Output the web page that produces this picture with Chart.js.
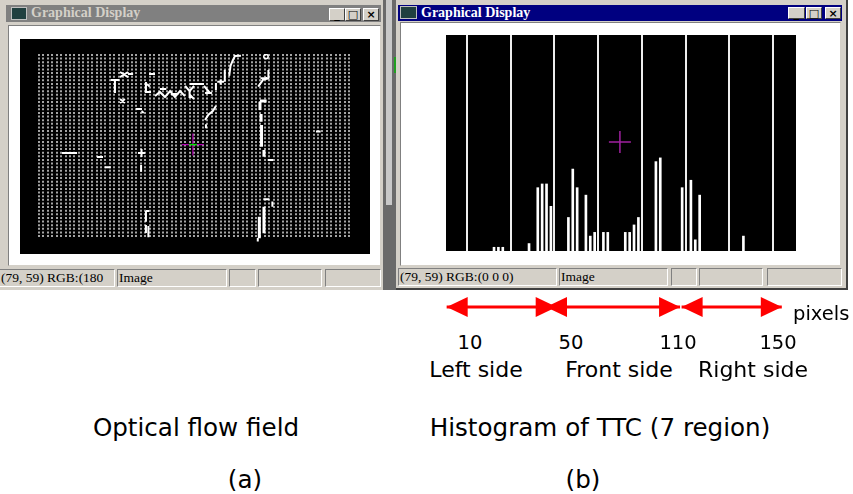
<!DOCTYPE html>
<html>
<head>
<meta charset="utf-8">
<script src="https://cdn.jsdelivr.net/npm/chart.js@4.4.1/dist/chart.umd.min.js"></script>
<style>
  body { margin: 0; width: 853px; height: 494px; background: #fff; position: relative; overflow: hidden; }
  .a { position: absolute; box-sizing: border-box; }
  .frame { background: #d4d0c8; }
  .bar1 { background: #808080; }
  .bar2 { background: #000080; }
  .ttl { font: bold 14px "Liberation Serif", serif; line-height: 16px; white-space: nowrap; }
  .btn { background: #d4d0c8; border: 1px solid; border-color: #fff #404040 #404040 #fff;
         font: bold 11px "DejaVu Sans", sans-serif; line-height: 11px; text-align: center; color: #000; }
  .ico { background: #204040; border: 1px solid #c0c0c0; }
  .client { background: #fff; border: 1px solid; border-color: #808080 #d4d0c8 #d4d0c8 #808080; }
  .pan { border: 1px solid; border-color: #808080 #fff #fff #808080; font: 13.5px "Liberation Serif", serif;
         line-height: 15px; padding-left: 1px; white-space: nowrap; overflow: hidden; }
  .t { position: absolute; white-space: nowrap; line-height: 1; font-family: "DejaVu Sans", sans-serif; color: #000; }
  .c { transform: translateX(-50%); }
  canvas { position: absolute; background: #000; }
</style>
</head>
<body>

<!-- left window -->
<div class="a frame" style="left:0;top:0;width:383px;height:290px"></div>
<div class="a bar1" style="left:6px;top:5px;width:375px;height:17px"></div>
<div class="a ico" style="left:11px;top:7px;width:16px;height:13px"></div>
<div class="a ttl" style="left:31px;top:5px;color:#d4d0c8">Graphical Display</div>
<div class="a btn" style="left:329px;top:8px;width:16px;height:13px">_</div>
<div class="a btn" style="left:345px;top:8px;width:16px;height:13px">□</div>
<div class="a btn" style="left:363px;top:8px;width:16px;height:13px">×</div>
<div class="a client" style="left:8px;top:25px;width:373px;height:241px"></div>
<canvas id="flow" width="350" height="215" style="left:20px;top:39px"></canvas>
<div class="a pan" style="left:-1px;top:269px;width:116px;height:18px">(79, 59) RGB:(180</div>
<div class="a pan" style="left:117px;top:269px;width:110px;height:18px">Image</div>
<div class="a pan" style="left:229px;top:269px;width:27px;height:18px"></div>
<div class="a pan" style="left:258px;top:269px;width:64px;height:18px"></div>
<div class="a pan" style="left:325px;top:269px;width:56px;height:18px"></div>

<!-- strip between the windows -->
<div class="a" style="left:383px;top:0;width:13px;height:290px;background:#6a6a6a"></div>
<div class="a" style="left:386px;top:0;width:6px;height:205px;background:#c8c8c8"></div>
<div class="a" style="left:394px;top:57px;width:3px;height:16px;background:#20a020"></div>

<!-- right window -->
<div class="a frame" style="left:396px;top:0;width:452px;height:290px;border-right:2px solid #404040;border-bottom:2px solid #404040"></div>
<div class="a bar2" style="left:398px;top:5px;width:444px;height:16px"></div>
<div class="a ico" style="left:400px;top:6px;width:17px;height:13px"></div>
<div class="a ttl" style="left:421px;top:5px;color:#fff">Graphical Display</div>
<div class="a btn" style="left:788px;top:7px;width:17px;height:12px">_</div>
<div class="a btn" style="left:806px;top:7px;width:16px;height:12px">□</div>
<div class="a btn" style="left:825px;top:7px;width:16px;height:12px">×</div>
<div class="a client" style="left:400px;top:22px;width:441px;height:244px"></div>
<canvas id="hist" width="350" height="216" style="left:446px;top:35px"></canvas>
<div class="a pan" style="left:398px;top:268px;width:159px;height:18px">(79, 59) RGB:(0 0 0)</div>
<div class="a pan" style="left:559px;top:268px;width:109px;height:18px">Image</div>
<div class="a pan" style="left:671px;top:268px;width:26px;height:18px"></div>
<div class="a pan" style="left:699px;top:268px;width:64px;height:18px"></div>
<div class="a pan" style="left:767px;top:268px;width:75px;height:18px"></div>

<!-- region arrows -->
<canvas id="sides" width="350" height="30" style="left:446px;top:292px;background:transparent"></canvas>
<div class="t" style="left:793px;top:304px;font-size:19.5px">pixels</div>
<div class="t c" style="left:470px;top:333px;font-size:19.5px">10</div>
<div class="t c" style="left:571px;top:333px;font-size:19.5px">50</div>
<div class="t c" style="left:678px;top:333px;font-size:19.5px">110</div>
<div class="t c" style="left:778px;top:333px;font-size:19.5px">150</div>
<div class="t c" style="left:476px;top:359px;font-size:22px">Left side</div>
<div class="t c" style="left:619px;top:359px;font-size:22px">Front side</div>
<div class="t c" style="left:753px;top:359px;font-size:22px">Right side</div>

<div class="t c" style="left:196px;top:416px;font-size:24.6px">Optical flow field</div>
<div class="t c" style="left:600px;top:416px;font-size:24.6px">Histogram of TTC (7 region)</div>
<div class="t c" style="left:245px;top:468px;font-size:24.6px">(a)</div>
<div class="t c" style="left:583px;top:468px;font-size:24.6px">(b)</div>

<script>
// cursor position shown in both status bars (image pixels)
var cursor = { x: 79, y: 59 };

// ---- (a) optical flow field, image pixel coordinates ----
// flow vectors that are longer than a dot, as polylines [x, y]
var flowLines = [
  [[44.3, 23.3], [44.3, 31.0]],
  [[42.4, 23.8], [46.3, 23.8]],
  [[46.6, 19.4], [50.2, 22.2]],
  [[46.6, 22.2], [50.2, 19.4]],
  [[50.2, 20.5], [52.5, 20.5]],
  [[59.7, 20.5], [62.4, 20.5]],
  [[58.3, 24.9], [58.3, 30.4], [60.6, 30.4]],
  [[58.8, 26.0], [60.0, 27.5]],
  [[62.4, 32.7], [64.6, 30.4], [66.9, 33.2], [69.2, 29.9], [71.4, 33.2], [73.7, 29.9], [75.9, 32.7]],
  [[64.6, 28.8], [67.5, 28.8]],
  [[69.5, 31.5], [73.0, 31.5]],
  [[76.0, 27.0], [78.0, 30.0], [80.0, 27.0]],
  [[78.0, 30.0], [78.0, 33.8]],
  [[78.2, 26.0], [84.5, 26.0]],
  [[84.5, 27.1], [87.2, 31.0]],
  [[78.2, 32.1], [80.0, 34.3]],
  [[85.0, 31.0], [88.1, 31.0]],
  [[46.6, 34.3], [48.8, 36.5]],
  [[46.6, 36.5], [48.8, 34.3]],
  [[53.8, 39.8], [56.5, 39.8]],
  [[56.3, 41.0], [57.3, 42.0]],
  [[20.4, 64.1], [27.2, 64.1]],
  [[36.2, 66.4], [38.9, 66.4]],
  [[39.8, 72.0], [42.4, 72.0]],
  [[54.7, 64.1], [57.9, 64.1]],
  [[56.3, 62.0], [56.3, 66.4]],
  [[56.1, 70.8], [56.1, 74.5]],
  [[58.3, 96.2], [58.3, 102.1]],
  [[58.3, 96.2], [59.8, 96.2]],
  [[58.3, 103.9], [58.3, 108.3]],
  [[59.4, 104.5], [59.4, 110.7]],
  [[95.9, 21.6], [96.5, 16.0], [97.5, 13.0], [98.5, 10.6], [101.2, 10.4]],
  [[93.9, 18.3], [93.9, 24.8]],
  [[90.5, 24.8], [93.5, 24.8]],
  [[92.0, 23.5], [92.0, 26.3]],
  [[89.9, 25.5], [89.9, 29.3]],
  [[113.6, 18.3], [113.6, 22.9], [111.3, 23.5], [109.0, 27.5]],
  [[110.0, 22.9], [113.0, 22.9]],
  [[89.9, 38.2], [88.5, 41.0], [86.5, 43.0], [85.0, 45.9]],
  [[85.4, 48.3], [85.4, 50.5]],
  [[135.1, 52.2], [137.2, 52.2]],
  [[113.3, 68.0], [115.8, 68.0]],
  [[111.3, 89.7], [114.0, 89.7]],
  [[115.4, 91.0], [115.4, 93.8]],
  [[108.8, 111.1], [108.8, 113.1]]
];
// the strong column on the right side
var flowLinesBold = [
  [[109.8, 35.8], [109.8, 40.4]],
  [[109.8, 35.4], [112.8, 35.4]],
  [[110.3, 42.6], [110.3, 46.9]],
  [[110.5, 48.7], [110.5, 60.7]],
  [[111.6, 62.5], [111.6, 66.2]],
  [[111.6, 93.8], [111.6, 108.5]],
  [[109.5, 99.3], [109.5, 111.3]]
];
var flowRing = [{ x: 112.5, y: 10.9 }];

// ---- (b) histogram of TTC ----
var bins   = [10, 11, 12, 18, 20, 21, 22, 23, 27, 28, 29, 31, 32, 33, 35, 36, 40, 41, 42, 43, 47, 48, 53, 55, 56, 57, 67];
var counts = [1, 1, 1, 2, 17, 18, 18, 12, 9, 22, 17, 15, 4, 5, 5, 5, 5, 5, 7, 9, 24, 25, 17, 19, 3, 15, 4];
var regionEdges = [4, 14, 24, 34, 44, 54, 64, 74];

// ---- region arrows under (b), image pixels ----
var arrowFrom = [0.3, 45.7, 107.7];
var arrowTo   = [50.6, 107.0, 153.5];

function toPoints(lines) {
  var pts = [];
  lines.forEach(function(l) {
    l.forEach(function(p) { pts.push({ x: p[0], y: p[1] }); });
    pts.push({ x: l[0][0], y: null });
  });
  return pts;
}

var cursorPt = [{ x: cursor.x + 0.5, y: cursor.y + 0.5 }];

// (a) optical flow
new Chart(document.getElementById('flow'), {
  type: 'line',
  data: {
    datasets: [{
      type: 'scatter', data: cursorPt, pointStyle: 'line', pointRadius: 4,
      borderColor: '#00e000', borderWidth: 1.5
    }, {
      type: 'scatter', data: cursorPt, pointStyle: 'cross', pointRadius: 11,
      borderColor: '#b000b0', borderWidth: 1.2
    }, {
      data: toPoints(flowLinesBold), borderColor: '#ffffff', borderWidth: 3,
      pointRadius: 0, spanGaps: false, clip: false
    }, {
      data: toPoints(flowLines), borderColor: '#ffffff', borderWidth: 2,
      pointRadius: 0, spanGaps: false, clip: false
    }, {
      type: 'scatter', data: flowRing, pointStyle: 'circle', pointRadius: 2.2,
      borderColor: '#ffffff', borderWidth: 1.5, backgroundColor: 'rgba(0,0,0,0)'
    }]
  },
  options: {
    responsive: false, animation: false, devicePixelRatio: 1,
    layout: { autoPadding: false, padding: { left: 19, right: 21, top: 15, bottom: 16 } },
    plugins: { legend: { display: false }, tooltip: { enabled: false } },
    scales: {
      x: {
        type: 'linear', min: 10, max: 150,
        ticks: { stepSize: 2, display: false },
        // sampling grid: one gray dot per vector
        grid: { color: '#a4a4a4', lineWidth: 2, drawTicks: false },
        border: { display: false, dash: [2, 1.62] }
      },
      y: { type: 'linear', min: 9.45, max: 111.1, reverse: true, display: false }
    }
  }
});

// (b) histogram
new Chart(document.getElementById('hist'), {
  type: 'bar',
  data: {
    datasets: [{
      type: 'scatter', data: cursorPt, xAxisID: 'xImg', yAxisID: 'yImg',
      pointStyle: 'cross', pointRadius: 11, borderColor: '#a020a0', borderWidth: 1.5
    }, {
      data: bins.map(function(b, i) { return { x: b, y: counts[i] }; }),
      backgroundColor: '#ffffff', barThickness: 2
    }]
  },
  options: {
    responsive: false, animation: false, devicePixelRatio: 1,
    layout: { autoPadding: false, padding: 0 },
    plugins: { legend: { display: false }, tooltip: { enabled: false } },
    scales: {
      x: {
        type: 'linear', min: -0.75, max: 79.25, offset: false,
        afterBuildTicks: function(s) { s.ticks = regionEdges.map(function(v) { return { value: v }; }); },
        ticks: { display: false },
        grid: { color: '#eeeeee', lineWidth: 2, drawTicks: false, offset: false },
        border: { display: false }
      },
      y: { type: 'linear', min: 0, max: 58, display: false },
      xImg: { axis: 'x', type: 'linear', min: 0, max: 160, display: false, offset: false },
      yImg: { axis: 'y', type: 'linear', min: 0, max: 120, reverse: true, display: false }
    }
  }
});

// arrows below the histogram
var arrowHeads = {
  id: 'arrowHeads',
  afterDatasetsDraw: function(chart) {
    var ctx = chart.ctx, x = chart.scales.x, y = chart.scales.y;
    var cy = y.getPixelForValue(0.5);
    ctx.save();
    ctx.fillStyle = '#ff0000';
    function head(tip, dir) {
      ctx.beginPath();
      ctx.moveTo(tip, cy);
      ctx.lineTo(tip - dir * 21, cy - 10);
      ctx.lineTo(tip - dir * 21, cy + 10);
      ctx.closePath();
      ctx.fill();
    }
    arrowFrom.forEach(function(a, i) {
      head(x.getPixelForValue(a), -1);
      head(x.getPixelForValue(arrowTo[i]), 1);
    });
    ctx.restore();
  }
};

var shafts = [];
arrowFrom.forEach(function(a, i) {
  shafts.push({ x: a, y: 0.5 }, { x: arrowTo[i], y: 0.5 }, { x: arrowTo[i], y: null });
});

new Chart(document.getElementById('sides'), {
  type: 'line',
  data: { datasets: [{ data: shafts, borderColor: '#ff0000', borderWidth: 3, pointRadius: 0, spanGaps: false }] },
  options: {
    responsive: false, animation: false, devicePixelRatio: 1,
    layout: { autoPadding: false, padding: 0 },
    plugins: { legend: { display: false }, tooltip: { enabled: false } },
    scales: {
      x: { type: 'linear', min: 0, max: 160, display: false },
      y: { type: 'linear', min: 0, max: 1, display: false }
    }
  },
  plugins: [arrowHeads]
});
</script>
</body>
</html>
